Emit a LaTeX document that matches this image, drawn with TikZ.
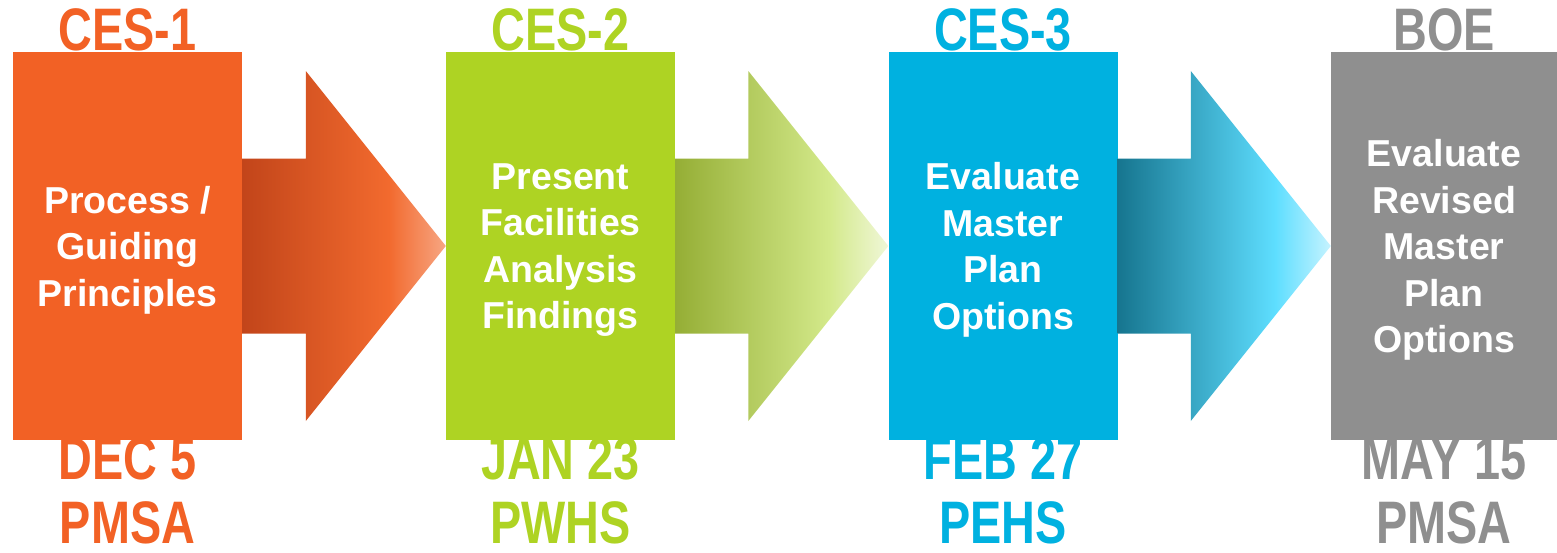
\documentclass[tikz,border=0pt]{standalone}
\usepackage{fontspec}
\setmainfont{Liberation Sans}
\newfontfamily\tagfont{Liberation Sans}[FakeStretch=0.78]
\usetikzlibrary{positioning,calc}

\definecolor{cesorange}{HTML}{F26125}
\definecolor{cesgreen}{HTML}{AED323}
\definecolor{cesblue}{HTML}{00B1E0}
\definecolor{cesgrey}{HTML}{8F8F8F}
\definecolor{oflowa}{HTML}{C2451A}
\definecolor{oflowb}{HTML}{F26A2E}
\definecolor{oflowc}{HTML}{F7A683}
\definecolor{gflowa}{HTML}{95AE35}
\definecolor{gflowb}{HTML}{D3E98A}
\definecolor{gflowc}{HTML}{F0F7D8}
\definecolor{bflowa}{HTML}{16758F}
\definecolor{bflowb}{HTML}{5EDEFF}
\definecolor{bflowc}{HTML}{C6F3FF}
\pgfdeclarehorizontalshading{orangeflow}{100bp}{color(0bp)=(oflowa); color(25bp)=(oflowa); color(61bp)=(oflowb); color(75bp)=(oflowc); color(100bp)=(oflowc)}
\pgfdeclarehorizontalshading{greenflow}{100bp}{color(0bp)=(gflowa); color(25bp)=(gflowa); color(61bp)=(gflowb); color(75bp)=(gflowc); color(100bp)=(gflowc)}
\pgfdeclarehorizontalshading{blueflow}{100bp}{color(0bp)=(bflowa); color(25bp)=(bflowa); color(62bp)=(bflowb); color(75bp)=(bflowc); color(100bp)=(bflowc)}
\tikzstyle{stage} = [rectangle, minimum width=229pt, minimum height=388pt, inner sep=0pt, text depth=0pt, text=white, align=center, font=\bfseries\fontsize{37.5}{46.5}\selectfont]
\tikzstyle{tag} = [inner sep=0pt, text depth=0pt, font=\tagfont\bfseries\fontsize{60}{60}\selectfont]

\begin{document}
\begin{tikzpicture}[x=1pt,y=-1pt]
\useasboundingbox (0,0) rectangle (1557,552);

% meeting boxes
\node[stage, fill=cesorange] (s1) at (127.5,246) {Process /\\Guiding\\Principles};
\node[stage, fill=cesgreen] (s2) at (560.5,246) {Present\\Facilities\\Analysis\\Findings};
\node[stage, fill=cesblue] (s3) at (1003,246) {Evaluate\\Master\\Plan\\Options};
\node[stage, fill=cesgrey, minimum width=226pt] (s4) at (1444,246) {Evaluate\\Revised\\Master\\Plan\\Options};

% meeting names
\node[tag, text=cesorange, anchor=base] (t1) at ([yshift=1pt]s1.north) {CES-1};
\node[tag, text=cesgreen, anchor=base] (t2) at ([yshift=1pt]s2.north) {CES-2};
\node[tag, text=cesblue, anchor=base] (t3) at ([yshift=1pt]s3.north) {CES-3};
\node[tag, text=cesgrey, anchor=base] (t4) at ([yshift=1pt]s4.north) {BOE};

% dates and places
\node[tag, text=cesorange, anchor=base] (d1) at ([yshift=-39pt]s1.south) {DEC 5};
\node[tag, text=cesorange, anchor=base] (v1) at ([yshift=-64pt]d1.base) {PMSA};
\node[tag, text=cesgreen, anchor=base] (d2) at ([yshift=-39pt]s2.south) {JAN 23};
\node[tag, text=cesgreen, anchor=base] (v2) at ([yshift=-64pt]d2.base) {PWHS};
\node[tag, text=cesblue, anchor=base] (d3) at ([yshift=-39pt]s3.south) {FEB 27};
\node[tag, text=cesblue, anchor=base] (v3) at ([yshift=-64pt]d3.base) {PEHS};
\node[tag, text=cesgrey, anchor=base] (d4) at ([yshift=-39pt]s4.south) {MAY 15};
\node[tag, text=cesgrey, anchor=base] (v4) at ([yshift=-64pt]d4.base) {PMSA};

% big arrows between the boxes
\foreach \a/\b/\sh in {s1/s2/orangeflow, s2/s3/greenflow, s3/s4/blueflow}
  \shade[shading=\sh] ([yshift=87.5pt]\a.east) -- ([xshift=-140pt,yshift=87.5pt]\b.west)
    -- ([xshift=-140pt,yshift=175pt]\b.west) -- (\b.west)
    -- ([xshift=-140pt,yshift=-175pt]\b.west) -- ([xshift=-140pt,yshift=-87.5pt]\b.west)
    -- ([yshift=-87.5pt]\a.east) -- cycle;

\end{tikzpicture}
\end{document}
